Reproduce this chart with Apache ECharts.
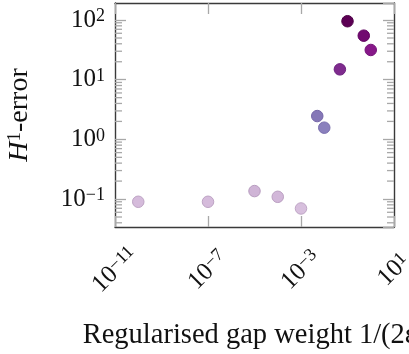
<!DOCTYPE html>
<html>
<head>
<meta charset="utf-8">
<style>
  html, body { margin: 0; padding: 0; background: #ffffff; }
  #chart { width: 409px; height: 354px; }
</style>
<script src="https://cdn.jsdelivr.net/npm/echarts@6/dist/echarts.min.js"></script>
</head>
<body>
<div id="chart"></div>
<script>
// Regularised gap weight against H1-error (log-log)
const gapWeights = [1e-10, 1e-7, 1e-5, 1e-4, 1e-3, 5e-3, 1e-2, 0.047, 0.1, 0.5, 1];
const h1Errors   = [0.090, 0.090, 0.136, 0.109, 0.0695, 2.46, 1.57, 14.9, 95.5, 54.7, 31.5];
const fillColors = ['#d5bbdb', '#d5bbdb', '#cfb4d6', '#d2b7d9', '#d7bfdd',
                    '#8577b7', '#8a80bd', '#7f2b8e', '#5c0054', '#710a70', '#871889'];
const edgeColors = ['#bda3c4', '#bda3c4', '#b89dc0', '#bba0c2', '#bfa6c6',
                    '#7566a8', '#7a6fae', '#6e2280', '#4d0046', '#600060', '#76137a'];

const xRange = [1e-11, 10];
const yRange = [0.034, 193];
const xTickStep = 4;            // one labelled tick every 4 decades
const minorMultipliers = [2, 3, 4, 5, 6, 7, 8, 9];

const serif = '"Liberation Serif", "DejaVu Serif", serif';
const frameColor = '#3a3a3a';
const tickColor = '#a8a8a8';

function powLabel(v) {
  const e = Math.round(Math.log10(v));
  const s = e < 0 ? '\u2212' + (-e) : String(e);
  return '{b|10}{s|' + s + '}';
}
const powRich = {
  b: { fontFamily: serif, fontSize: 25, lineHeight: 25, color: '#111' },
  s: { fontFamily: serif, fontSize: 18, lineHeight: 18, color: '#111', verticalAlign: 'top' }
};

// minor ticks on the logarithmic error axis: 2..9 times each power of ten
const minorValues = [];
for (let e = -3; e <= 3; e++) {
  minorMultipliers.forEach(m => {
    const v = m * Math.pow(10, e);
    if (v > yRange[0] && v < yRange[1]) minorValues.push(v);
  });
}

const points = gapWeights.map((x, i) => ({
  value: [x, h1Errors[i]],
  itemStyle: { color: fillColors[i], borderColor: edgeColors[i], borderWidth: 1, opacity: 1 }
}));

const chart = echarts.init(document.getElementById('chart'), null, { renderer: 'canvas' });

const baseX = {
  type: 'log', logBase: 10, min: xRange[0], max: xRange[1], interval: xTickStep,
  axisLine: { show: true, lineStyle: { color: frameColor, width: 1.4 } },
  axisTick: { show: true, inside: true, length: 11, lineStyle: { color: tickColor, width: 1.3 } },
  splitLine: { show: false },
  minorTick: { show: false }
};
const baseY = {
  type: 'log', logBase: 10, min: yRange[0], max: yRange[1],
  axisLine: { show: true, lineStyle: { color: frameColor, width: 1.4 } },
  axisTick: { show: true, inside: true, length: 11, lineStyle: { color: tickColor, width: 1.3 } },
  splitLine: { show: false }
};

chart.setOption({
  animation: false,
  backgroundColor: '#ffffff',
  grid: { left: 115, right: 15, top: 3, bottom: 127, containLabel: false, outerBoundsMode: 'none' },
  xAxis: [
    Object.assign({}, baseX, {
      position: 'bottom',
      name: 'Regularised gap weight 1/(2\u03b5)',
      nameLocation: 'middle',
      nameGap: 94,
      nameTextStyle: { fontFamily: serif, fontSize: 28.5, color: '#111' },
      axisLabel: {
        show: true, rotate: 45, margin: 43, align: 'center', verticalAlign: 'middle',
        showMinLabel: true, showMaxLabel: true,
        formatter: powLabel, rich: powRich
      }
    }),
    Object.assign({}, baseX, { position: 'top', axisLabel: { show: false } })
  ],
  yAxis: [
    Object.assign({}, baseY, {
      position: 'left',
      name: '{i|H}{sup|1}{n|-error}',
      nameLocation: 'middle',
      nameRotate: 90,
      nameGap: 81,
      nameTextStyle: {
        rich: {
          i: { fontFamily: serif, fontStyle: 'italic', fontSize: 28, lineHeight: 28, color: '#111' },
          sup: { fontFamily: serif, fontSize: 19, lineHeight: 19, color: '#111', verticalAlign: 'top' },
          n: { fontFamily: serif, fontSize: 28, lineHeight: 28, color: '#111' }
        }
      },
      axisLabel: {
        show: true, margin: 10, showMinLabel: false, showMaxLabel: false,
        formatter: powLabel, rich: powRich
      }
    }),
    Object.assign({}, baseY, { position: 'right', axisLabel: { show: false } })
  ],
  series: [
    {
      // minor ticks drawn inside the frame on both vertical edges
      type: 'custom',
      xAxisIndex: 0, yAxisIndex: 0,
      silent: true, z: 1,
      data: minorValues.map(v => [xRange[0], v]),
      renderItem: function (params, api) {
        const v = api.value(1);
        const left = api.coord([xRange[0], v]);
        const right = api.coord([xRange[1], v]);
        const style = { stroke: tickColor, lineWidth: 1.3 };
        return {
          type: 'group',
          children: [
            { type: 'line', shape: { x1: left[0], y1: left[1], x2: left[0] + 7, y2: left[1] }, style: style },
            { type: 'line', shape: { x1: right[0], y1: right[1], x2: right[0] - 7, y2: right[1] }, style: style }
          ]
        };
      }
    },
    {
      type: 'scatter',
      xAxisIndex: 0, yAxisIndex: 0,
      symbol: 'circle',
      symbolSize: 11.5,
      z: 5,
      data: points
    }
  ]
});
</script>
</body>
</html>
